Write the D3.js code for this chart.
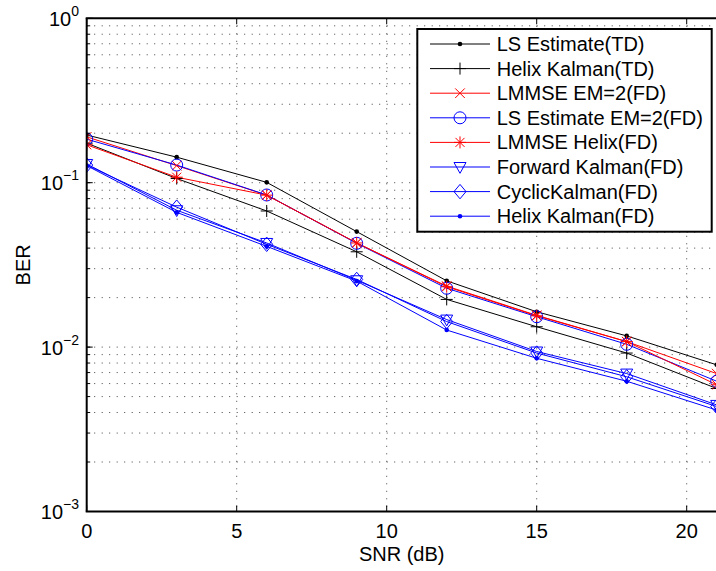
<!DOCTYPE html>
<html>
<head>
<meta charset="utf-8">
<script src="https://cdn.jsdelivr.net/npm/d3@7/dist/d3.min.js"></script>
<style>
  html, body { margin: 0; padding: 0; background: #fff; }
  svg { display: block; }
  text { font-family: "Liberation Sans", Arial, Helvetica, sans-serif; }
</style>
</head>
<body>
<svg id="chart" width="716" height="571"></svg>
<script>
// ---- data ----
const snr = [0, 3, 6, 9, 12, 15, 18, 21];
const lsTD       = [0.195, 0.143, 0.1005, 0.0504, 0.0253, 0.0164, 0.0117, 0.0078];
const helixTD    = [0.174, 0.106, 0.0673, 0.038, 0.0195, 0.0133, 0.0092, 0.0056];
const lmmseEM    = [0.190, 0.127, 0.084, 0.043, 0.0235, 0.0156, 0.0108, 0.0069];
const lsEM       = [0.184, 0.128, 0.0842, 0.0428, 0.0228, 0.0153, 0.0104, 0.0062];
const lmmseHelix = [0.170, 0.108, 0.084, 0.043, 0.0233, 0.0155, 0.0108, 0.0059];
const forwardK   = [0.130, 0.068, 0.043, 0.0255, 0.0147, 0.0094, 0.0069, 0.00445];
const cyclicK    = [0.128, 0.071, 0.0422, 0.0258, 0.0143, 0.0092, 0.0066, 0.00435];
const helixFD    = [0.127, 0.066, 0.041, 0.0252, 0.0127, 0.00855, 0.0062, 0.00414];

const seriesNames = ["LS Estimate(TD)", "Helix Kalman(TD)", "LMMSE EM=2(FD)", "LS Estimate EM=2(FD)",
  "LMMSE Helix(FD)", "Forward Kalman(FD)", "CyclicKalman(FD)", "Helix Kalman(FD)"];
const seriesValues = [lsTD, helixTD, lmmseEM, lsEM, lmmseHelix, forwardK, cyclicK, helixFD];
const seriesColors = ["#000000", "#000000", "#ff0000", "#0000ff", "#ff0000", "#0000ff", "#0000ff", "#0000ff"];
const seriesMarkers = ["dot", "plus", "x", "circle", "star", "triangle", "diamond", "dot"];

const xTicks = [0, 5, 10, 15, 20];
const yTickExps = [0, -1, -2, -3];
const xLabel = "SNR (dB)";
const yLabel = "BER";

// ---- layout ----
const L = 86.7, T = 18.3, R = 716.7, B = 511.5;
const svg = d3.select("#chart");
const x = d3.scaleLinear().domain([0, 21]).range([L, R]);
const y = d3.scaleLog().domain([1e-3, 1]).range([B, T]);

// grid
const grid = svg.append("g").attr("stroke", "#444").attr("stroke-width", 1)
  .attr("stroke-dasharray", "1,6.5").attr("fill", "none");
const minorVals = [];
for (let e = -3; e < 0; e++) for (let m = 1; m <= 9; m++) minorVals.push(m * Math.pow(10, e));
minorVals.forEach(v => {
  if (v <= 1e-3) return;
  grid.append("line").attr("x1", L).attr("x2", R).attr("y1", y(v)).attr("y2", y(v));
});
xTicks.forEach(t => {
  if (t === 0) return;
  grid.append("line").attr("x1", x(t)).attr("x2", x(t)).attr("y1", T).attr("y2", B);
});

// clip
svg.append("defs").append("clipPath").attr("id", "clip")
  .append("rect").attr("x", L).attr("y", T).attr("width", R - L).attr("height", B - T);

// marker drawing
function drawMarker(g, type, cx, cy, color) {
  const s = 6;
  if (type === "dot") {
    g.append("circle").attr("cx", cx).attr("cy", cy).attr("r", 2.3).attr("fill", color);
  } else if (type === "plus") {
    g.append("path").attr("d", `M${cx - s},${cy}H${cx + s}M${cx},${cy - s}V${cy + s}`)
      .attr("stroke", color).attr("stroke-width", 1).attr("fill", "none");
  } else if (type === "x") {
    const a = s * 0.8;
    g.append("path").attr("d", `M${cx - a},${cy - a}L${cx + a},${cy + a}M${cx - a},${cy + a}L${cx + a},${cy - a}`)
      .attr("stroke", color).attr("stroke-width", 1).attr("fill", "none");
  } else if (type === "circle") {
    g.append("circle").attr("cx", cx).attr("cy", cy).attr("r", s).attr("fill", "none")
      .attr("stroke", color).attr("stroke-width", 1);
  } else if (type === "star") {
    const a = s * 0.75;
    g.append("path").attr("d", `M${cx - s},${cy}H${cx + s}M${cx},${cy - s}V${cy + s}M${cx - a},${cy - a}L${cx + a},${cy + a}M${cx - a},${cy + a}L${cx + a},${cy - a}`)
      .attr("stroke", color).attr("stroke-width", 1).attr("fill", "none");
  } else if (type === "triangle") {
    g.append("path").attr("d", `M${cx - s},${cy - s * 0.75}L${cx + s},${cy - s * 0.75}L${cx},${cy + s * 1.05}Z`)
      .attr("stroke", color).attr("stroke-width", 1).attr("fill", "none");
  } else if (type === "diamond") {
    g.append("path").attr("d", `M${cx},${cy - s * 1.2}L${cx + s},${cy}L${cx},${cy + s * 1.2}L${cx - s},${cy}Z`)
      .attr("stroke", color).attr("stroke-width", 1).attr("fill", "none");
  }
}

// series
const plotG = svg.append("g").attr("clip-path", "url(#clip)");
const line = d3.line().x((d, i) => x(snr[i])).y(d => y(d));
seriesValues.forEach((vals, k) => {
  plotG.append("path").datum(vals).attr("d", line).attr("fill", "none")
    .attr("stroke", seriesColors[k]).attr("stroke-width", 1);
});
seriesValues.forEach((vals, k) => {
  vals.forEach((v, i) => drawMarker(plotG, seriesMarkers[k], x(snr[i]), y(v), seriesColors[k]));
});

// axes frame
const ax = svg.append("g").attr("stroke", "#000").attr("fill", "none");
ax.append("line").attr("x1", L).attr("x2", L).attr("y1", T).attr("y2", B).attr("stroke-width", 2);
ax.append("line").attr("x1", L - 1).attr("x2", R).attr("y1", B).attr("y2", B).attr("stroke-width", 2);
ax.append("line").attr("x1", L - 1).attr("x2", R).attr("y1", T).attr("y2", T).attr("stroke-width", 2);
xTicks.forEach(t => {
  ax.append("line").attr("x1", x(t)).attr("x2", x(t)).attr("y1", B).attr("y2", B - 6).attr("stroke-width", 1);
  ax.append("line").attr("x1", x(t)).attr("x2", x(t)).attr("y1", T).attr("y2", T + 6).attr("stroke-width", 1);
});
yTickExps.forEach(e => {
  ax.append("line").attr("x1", L).attr("x2", L + 6).attr("y1", y(Math.pow(10, e))).attr("y2", y(Math.pow(10, e))).attr("stroke-width", 1);
});
minorVals.forEach(v => {
  ax.append("line").attr("x1", L).attr("x2", L + 3.5).attr("y1", y(v)).attr("y2", y(v)).attr("stroke-width", 1);
});

// tick labels
xTicks.forEach(t => {
  svg.append("text").attr("x", x(t)).attr("y", 538).attr("text-anchor", "middle")
    .attr("font-size", 20).attr("fill", "#000").text(t);
});
yTickExps.forEach(e => {
  const tx = svg.append("text").attr("x", 79).attr("y", y(Math.pow(10, e)) + 7.5)
    .attr("text-anchor", "end").attr("font-size", 20).attr("fill", "#000");
  tx.append("tspan").text("10");
  tx.append("tspan").attr("dy", -10).attr("font-size", 14).text(e === 0 ? "0" : "\u2212" + Math.abs(e));
});

// axis labels
svg.append("text").attr("x", (L + R) / 2).attr("y", 561).attr("text-anchor", "middle")
  .attr("font-size", 20).attr("fill", "#000").text(xLabel);
svg.append("text").attr("transform", `translate(30,${(T + B) / 2}) rotate(-90)`).attr("text-anchor", "middle")
  .attr("font-size", 20).attr("fill", "#000").text(yLabel);

// legend
const lg = svg.append("g");
lg.append("rect").attr("x", 417.3).attr("y", 29).attr("width", 294.4).attr("height", 202.7)
  .attr("fill", "#fff").attr("stroke", "#000").attr("stroke-width", 2);
seriesNames.forEach((name, k) => {
  const ry = 44 + k * 24.6;
  lg.append("line").attr("x1", 430).attr("x2", 490).attr("y1", ry).attr("y2", ry)
    .attr("stroke", seriesColors[k]).attr("stroke-width", 1);
  drawMarker(lg, seriesMarkers[k], 460, ry, seriesColors[k]);
  lg.append("text").attr("x", 496.7).attr("y", ry + 7).attr("font-size", 20).attr("fill", "#000").text(name);
});
</script>
</body>
</html>
